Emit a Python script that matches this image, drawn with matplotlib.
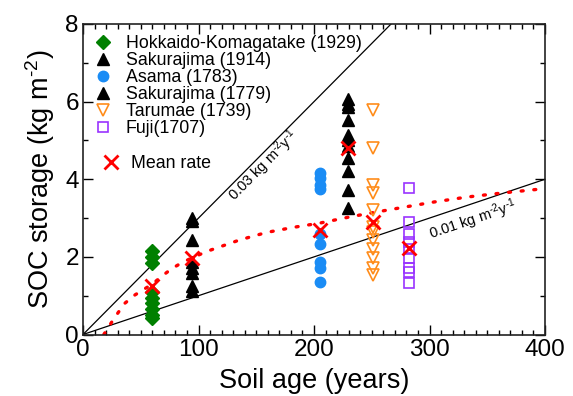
import numpy as np
import matplotlib
matplotlib.use('Agg')
import matplotlib.pyplot as plt
from matplotlib.ticker import MultipleLocator

plt.rcParams['font.family'] = ['Liberation Sans', 'DejaVu Sans']
plt.rcParams['mathtext.fontset'] = 'custom'
plt.rcParams['mathtext.rm'] = 'Liberation Sans'
plt.rcParams['mathtext.it'] = 'Liberation Sans'
plt.rcParams['mathtext.default'] = 'regular'

# ---------------- data ---------------- #
hok_age = 60
hok_soc = [2.15, 2.0, 1.85, 1.1, 0.95, 0.8, 0.65, 0.5, 0.42]

sak14_age = 94
sak14_soc = [3.0, 2.92, 2.44, 1.88, 1.72, 1.58, 1.25, 1.13]

asama_age = 205
asama_soc = [4.15, 4.02, 3.85, 3.75, 2.6, 2.32, 1.88, 1.72, 1.35]

sak79_age = 229
sak79_soc = [6.07, 5.93, 5.85, 5.52, 5.13, 5.0, 4.85, 4.55, 4.22, 3.72, 3.27]

tar_age = 251
tar_soc = [5.79, 4.8, 3.84, 3.64, 3.21, 2.78, 2.65, 2.44, 2.2, 1.96, 1.71, 1.53]

fuji_age = 282
fuji_soc = [3.78, 2.91, 2.58, 2.39, 2.2, 1.96, 1.72, 1.62, 1.32]

mean_age = [60, 94, 205, 229, 251, 282]
mean_soc = [1.25, 1.97, 2.68, 4.8, 2.9, 2.22]

# dotted curve through the mean rates
curve_age = [18, 27, 36, 45, 60, 69, 77, 85, 94, 108, 136, 159, 182, 205,
             231, 251, 274, 303, 332, 361, 400]
curve_soc = [0.0, 0.42, 0.8, 1.02, 1.3, 1.52, 1.7, 1.84, 1.97, 2.15, 2.44,
             2.63, 2.76, 2.87, 3.03, 3.14, 3.26, 3.41, 3.54, 3.64, 3.76]

rate_hi = 0.03
rate_lo = 0.01

# ---------------- plot ---------------- #
fig = plt.figure(figsize=(5.73, 3.96), dpi=100)
ax = fig.add_axes([0.1449, 0.1553, 0.8063, 0.7841])

ax.set_xlim(0, 400)
ax.set_ylim(0, 8)

t = np.array([0, 400])
ax.plot(t, rate_hi * t, color='black', lw=0.9, zorder=1)
ax.plot(t, rate_lo * t, color='black', lw=0.9, zorder=1)

ax.plot(curve_age, curve_soc, color='red', lw=2.4, ls=(0, (0.6, 3.2)),
        dash_capstyle='round', zorder=2)

h1, = ax.plot([hok_age] * len(hok_soc), hok_soc, 'D', color='#008000',
              ms=7, ls='none', label='Hokkaido-Komagatake (1929)')
h2, = ax.plot([sak14_age] * len(sak14_soc), sak14_soc, '^', color='black',
              ms=8, ls='none', label='Sakurajima (1914)')
h3, = ax.plot([asama_age] * len(asama_soc), asama_soc, 'o', color='#1a8cf5',
              ms=7.5, ls='none', label='Asama (1783)')
h4, = ax.plot([sak79_age] * len(sak79_soc), sak79_soc, '^', color='black',
              ms=8, ls='none', label='Sakurajima (1779)')
h5, = ax.plot([tar_age] * len(tar_soc), tar_soc, 'v', mfc='none',
              mec='#ff8c1a', mew=1.2, ms=8.5, ls='none',
              label='Tarumae (1739)')
h6, = ax.plot([fuji_age] * len(fuji_soc), fuji_soc, 's', mfc='none',
              mec='#9933ff', mew=1.2, ms=7.5, ls='none', label='Fuji(1707)')

hm, = ax.plot(mean_age, mean_soc, 'x', color='red', ms=10, mew=2,
              ls='none', label='Mean rate', zorder=5)

# labels along the two rate lines
def line_angle(rate):
    p0 = ax.transData.transform((0, 0))
    p1 = ax.transData.transform((100, 100 * rate))
    return np.degrees(np.arctan2(p1[1] - p0[1], p1[0] - p0[0]))

unit = r'kg m$^{\text{-}2}$y$^{\text{-}1}$'
ax.text(156, 4.34, '0.03 ' + unit, fontsize=10.5,
        rotation=line_angle(rate_hi), rotation_mode='anchor',
        ha='center', va='center')
ax.text(338, 2.95, '0.01 ' + unit, fontsize=10.5,
        rotation=line_angle(rate_lo), rotation_mode='anchor',
        ha='center', va='center')

# legends
leg = ax.legend(handles=[h1, h2, h3, h4, h5, h6], loc='upper left',
                bbox_to_anchor=(93.7 / 573, 1 - 35 / 396),
                bbox_transform=fig.transFigure, frameon=False,
                fontsize=12.8, labelspacing=0.0, handlelength=1.0,
                handletextpad=0.8, borderpad=0, borderaxespad=0)
ax.add_artist(leg)
ax.legend(handles=[hm], loc='upper left',
          bbox_to_anchor=(101.7 / 573, 1 - 155 / 396),
          bbox_transform=fig.transFigure, frameon=False,
          fontsize=12.8, handlelength=1.0, handletextpad=0.65,
          borderpad=0, borderaxespad=0)

# axes and ticks
ax.xaxis.set_major_locator(MultipleLocator(100))
ax.xaxis.set_minor_locator(MultipleLocator(10))
ax.yaxis.set_major_locator(MultipleLocator(2))
ax.yaxis.set_minor_locator(MultipleLocator(1))
ax.tick_params(which='both', direction='in', top=True, right=True,
               labelsize=17.5, width=1)
ax.tick_params(which='major', length=7, pad=3)
ax.tick_params(which='minor', length=3.5)
for s in ax.spines.values():
    s.set_linewidth(1.2)
    s.set_color('#222222')

ax.set_xlabel('Soil age (years)', fontsize=19.5, labelpad=5)
ax.set_ylabel(r'SOC storage (kg m$^{\text{-}2}$)', fontsize=19.5, labelpad=6)

fig.savefig('out.png', dpi=100)
